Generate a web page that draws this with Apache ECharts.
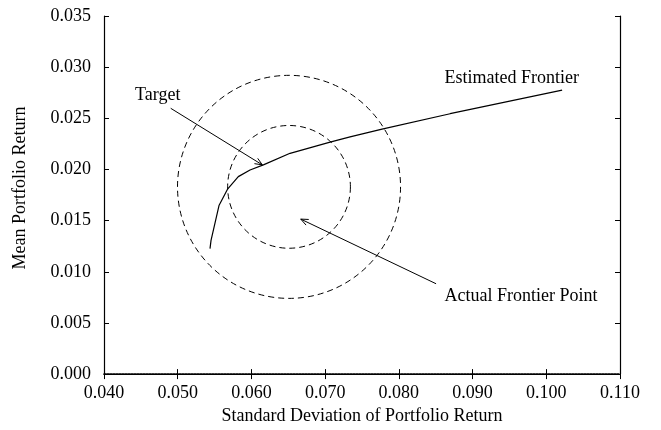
<!DOCTYPE html>
<html>
<head>
<meta charset="utf-8">
<script src="https://cdn.jsdelivr.net/npm/echarts@6/dist/echarts.min.js"></script>
<style>
  html, body { margin: 0; padding: 0; background: #fff; }
  #chart { width: 661px; height: 430px; }
</style>
</head>
<body>
<div id="chart"></div>
<script>
// Estimated efficient frontier (std. deviation vs. mean return)
const frontierSd = [0.05438, 0.05452, 0.05560, 0.05679, 0.05822, 0.05981, 0.06162, 0.06524, 0.07067, 0.07338, 0.07772, 0.08695, 0.10215];
const frontierMean = [0.01226, 0.01307, 0.01647, 0.01811, 0.01930, 0.01995, 0.02045, 0.02158, 0.02268, 0.02319, 0.02394, 0.02545, 0.02775];

// Uncertainty circles around the actual point: centre and radii (return units)
const circleCenter = [0.0651, 0.0183];
const circleRadii = [0.0060, 0.0109];

// Annotation arrows: tail (sd, mean) -> head (sd, mean)
const arrowTailSd = [0.04905, 0.08505];
const arrowTailMean = [0.02598, 0.00883];
const arrowHeadSd = [0.06148, 0.06669];
const arrowHeadMean = [0.02045, 0.01515];

// Text annotations
const noteTexts = ['Target', 'Estimated Frontier', 'Actual Frontier Point'];
const noteSd = [0.04421, 0.08618, 0.08618];
const noteMean = [0.02724, 0.02893, 0.00761];

const FONT = "'Liberation Serif', 'Times New Roman', serif";
const FS = 18;

const chart = echarts.init(document.getElementById('chart'), null, { renderer: 'canvas' });

const frameAxis = {
  axisLine: { show: true, lineStyle: { color: '#000', width: 1.2 } },
  axisTick: { show: true, inside: true, length: 5, lineStyle: { color: '#000', width: 1 } },
  splitLine: { show: false }
};

const option = {
  animation: false,
  backgroundColor: '#fff',
  grid: { left: 104, right: 41, top: 16, bottom: 51, containLabel: false },
  xAxis: [
    Object.assign({}, frameAxis, {
      type: 'value', min: 0.04, max: 0.11, interval: 0.01, position: 'bottom',
      name: 'Standard Deviation of Portfolio Return', nameLocation: 'middle', nameGap: 30,
      nameTextStyle: { fontFamily: FONT, fontSize: FS, color: '#000' },
      axisLine: { show: true, lineStyle: { color: '#000', width: 1.5, type: [2, 1] } },
      axisLabel: { formatter: v => v.toFixed(3), fontFamily: FONT, fontSize: FS, color: '#000', margin: 10 }
    }),
    Object.assign({}, frameAxis, {
      type: 'value', min: 0.04, max: 0.11, interval: 0.01, position: 'top',
      axisLabel: { show: false }
    })
  ],
  yAxis: [
    Object.assign({}, frameAxis, {
      type: 'value', min: 0, max: 0.035, interval: 0.005, position: 'left',
      name: 'Mean Portfolio Return', nameLocation: 'middle', nameGap: 75,
      nameTextStyle: { fontFamily: FONT, fontSize: FS, color: '#000', padding: [0, 0, 0, 14] },
      axisLabel: { formatter: v => v.toFixed(3), fontFamily: FONT, fontSize: FS, color: '#000', margin: 13 }
    }),
    Object.assign({}, frameAxis, {
      type: 'value', min: 0, max: 0.035, interval: 0.005, position: 'right',
      axisLabel: { show: false }
    })
  ],
  series: [
    {
      name: 'Estimated Frontier',
      type: 'line',
      data: frontierSd.map((x, i) => [x, frontierMean[i]]),
      showSymbol: false,
      smooth: false,
      lineStyle: { color: '#000', width: 1.2 },
      silent: true
    },
    {
      name: 'Circles',
      type: 'custom',
      data: circleRadii.map(r => [circleCenter[0], circleCenter[1], r]),
      encode: { x: 0, y: 1 },
      silent: true,
      renderItem: function (params, api) {
        const c = api.coord([api.value(0), api.value(1)]);
        const r = api.size([0, api.value(2)])[1];
        return {
          type: 'circle',
          shape: { cx: c[0], cy: c[1], r: r },
          style: { fill: 'none', stroke: '#000', lineWidth: 1, lineDash: [6, 4] }
        };
      }
    },
    {
      name: 'Arrows',
      type: 'custom',
      data: arrowTailSd.map((x, i) => [x, arrowTailMean[i], arrowHeadSd[i], arrowHeadMean[i]]),
      encode: { x: [0, 2], y: [1, 3] },
      silent: true,
      renderItem: function (params, api) {
        const p1 = api.coord([api.value(0), api.value(1)]);
        const p2 = api.coord([api.value(2), api.value(3)]);
        const ang = Math.atan2(p2[1] - p1[1], p2[0] - p1[0]);
        const L = 8, spread = 0.4;
        const a1 = [p2[0] - L * Math.cos(ang - spread), p2[1] - L * Math.sin(ang - spread)];
        const a2 = [p2[0] - L * Math.cos(ang + spread), p2[1] - L * Math.sin(ang + spread)];
        const st = { stroke: '#000', lineWidth: 1, fill: 'none' };
        return {
          type: 'group',
          children: [
            { type: 'line', shape: { x1: p1[0], y1: p1[1], x2: p2[0], y2: p2[1] }, style: st },
            { type: 'polyline', shape: { points: [a1, p2, a2] }, style: st }
          ]
        };
      }
    },
    {
      name: 'Notes',
      type: 'custom',
      data: noteSd.map((x, i) => [x, noteMean[i], i]),
      encode: { x: 0, y: 1 },
      silent: true,
      renderItem: function (params, api) {
        const p = api.coord([api.value(0), api.value(1)]);
        return {
          type: 'text',
          x: p[0], y: p[1],
          style: {
            text: noteTexts[api.value(2)],
            fill: '#000',
            font: FS + 'px ' + FONT,
            align: 'left',
            verticalAlign: 'middle'
          }
        };
      }
    }
  ]
};

chart.setOption(option);
</script>
</body>
</html>
